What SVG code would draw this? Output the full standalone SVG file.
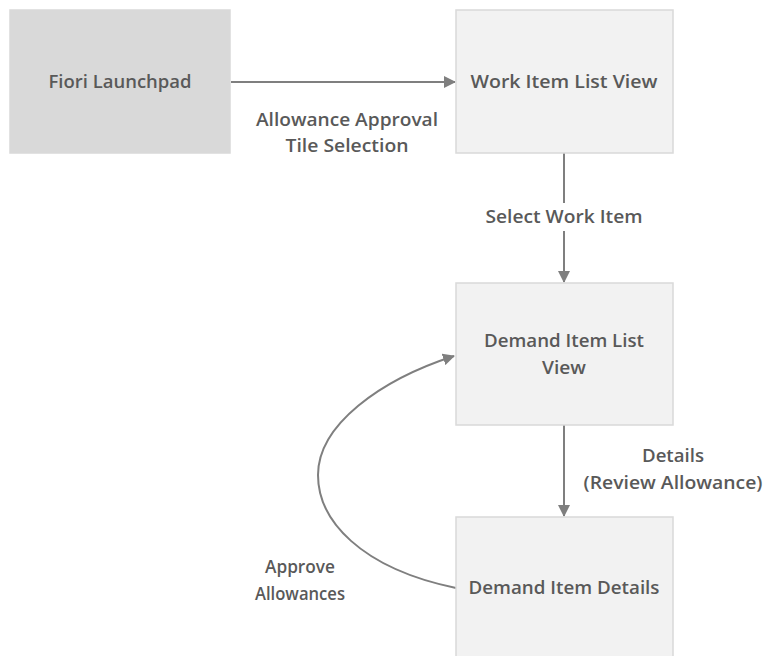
<svg xmlns="http://www.w3.org/2000/svg" width="768" height="656" viewBox="0 0 768 656">
<defs>
<marker id="ah" viewBox="0 0 12 12" refX="11" refY="6" markerWidth="12" markerHeight="12" markerUnits="userSpaceOnUse" orient="auto">
<path d="M0,0 L12,6 L0,12 Z" fill="#7f7f7f"/>
</marker>
</defs>
<style>
.box{fill:#f2f2f2;stroke:#d9d9d9;stroke-width:1.5}
.dark{fill:#d9d9d9;stroke:#d9d9d9;stroke-width:1.5}
.t{font-family:"Open Sans","Noto Sans",sans-serif;font-weight:600;font-size:18px;fill:#595959;text-anchor:middle}
.c{fill:none;stroke:#7f7f7f;stroke-width:2}
</style>
<rect width="768" height="656" fill="#ffffff"/>
<g id="connectors">
<path class="c" d="M231,82 L455,82" marker-end="url(#ah)"/>
<path class="c" d="M564,153 L564,282" marker-end="url(#ah)"/>
<path class="c" d="M564,425 L564,516" marker-end="url(#ah)"/>
<path class="c" d="M456,588 C360,568 318,520 318,475 C318,425 380,380 454,356" marker-end="url(#ah)"/>
<rect x="474" y="203" width="180" height="28" fill="#ffffff"/>
<text class="t" x="347" y="126" textLength="182" lengthAdjust="spacingAndGlyphs">Allowance Approval</text>
<text class="t" x="347" y="152" textLength="123" lengthAdjust="spacingAndGlyphs">Tile Selection</text>
<text class="t" x="564" y="223" textLength="157" lengthAdjust="spacingAndGlyphs">Select Work Item</text>
<text class="t" x="673" y="462" textLength="62" lengthAdjust="spacingAndGlyphs">Details</text>
<text class="t" x="673" y="489" textLength="179" lengthAdjust="spacingAndGlyphs">(Review Allowance)</text>
<text class="t" x="300" y="573" textLength="70" lengthAdjust="spacingAndGlyphs">Approve</text>
<text class="t" x="300" y="600" textLength="90" lengthAdjust="spacingAndGlyphs">Allowances</text>
</g>
<g id="fiori">
<rect class="dark" x="10" y="10" width="220" height="143"/>
<text class="t" x="120" y="88" textLength="143" lengthAdjust="spacingAndGlyphs">Fiori Launchpad</text>
</g>
<g id="worklist">
<rect class="box" x="456" y="10" width="217" height="143"/>
<text class="t" x="564" y="88" textLength="187" lengthAdjust="spacingAndGlyphs">Work Item List View</text>
</g>
<g id="demandlist">
<rect class="box" x="456" y="283" width="217" height="142"/>
<text class="t" x="564" y="347" textLength="160" lengthAdjust="spacingAndGlyphs">Demand Item List</text>
<text class="t" x="564" y="374" textLength="44" lengthAdjust="spacingAndGlyphs">View</text>
</g>
<g id="demanddetails">
<rect class="box" x="456" y="517" width="217" height="150"/>
<text class="t" x="564" y="594" textLength="191" lengthAdjust="spacingAndGlyphs">Demand Item Details</text>
</g>
</svg>
